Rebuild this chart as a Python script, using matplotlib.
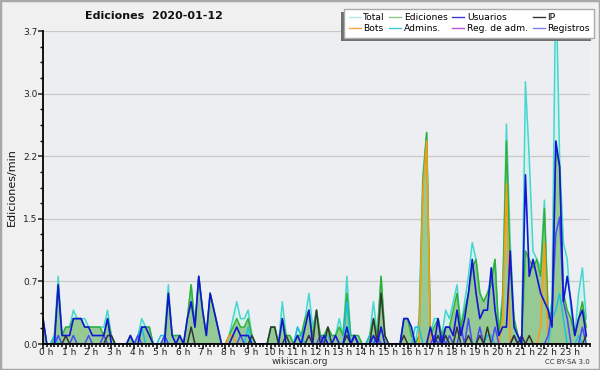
import numpy as np
import matplotlib
matplotlib.use('Agg')
import matplotlib.pyplot as plt
import matplotlib.transforms as mtransforms
from matplotlib.lines import Line2D
from matplotlib.patches import Rectangle
from matplotlib.ticker import MultipleLocator, FixedLocator

# edits per minute, 10-minute bins (one row per hour)
total = [
    0.3, 0, 0, 0.1, 0.8, 0.1,
    0.2, 0.2, 0.4, 0.3, 0.3, 0.3,
    0.2, 0.2, 0.2, 0.2, 0.2, 0.4,
    0.1, 0, 0, 0, 0, 0.1,
    0, 0.1, 0.3, 0.2, 0.2, 0,
    0, 0, 0.1, 0.7, 0.1, 0.1,
    0.1, 0, 0.3, 0.7, 0.2, 0.8,
    0.4, 0.1, 0.6, 0.4, 0.2, 0,
    0, 0.1, 0.3, 0.5, 0.3, 0.3,
    0.4, 0.1, 0, 0, 0, 0,
    0.2, 0.2, 0, 0.5, 0.1, 0.1,
    0, 0.2, 0.1, 0.3, 0.6, 0.2,
    0.4, 0.1, 0.1, 0.2, 0.1, 0.1,
    0.3, 0.1, 0.8, 0.1, 0.1, 0.1,
    0, 0, 0.1, 0.5, 0.1, 0.8,
    0.1, 0, 0, 0, 0, 0.3,
    0.3, 0.1, 0, 0.3, 2.0, 2.5,
    0.1, 0.3, 0.3, 0.1, 0.4, 0.3,
    0.5, 0.7, 0.2, 0.5, 0.8, 1.2,
    1.0, 0.6, 0.5, 0.6, 0.8, 1.0,
    0.1, 0.6, 2.6, 1.2, 0.3, 0.1,
    0, 3.1, 2.2, 1.1, 1.0, 0.9,
    1.7, 0.3, 0.5, 4.4, 2.2, 1.2,
    1.0, 0.4, 0.1, 0.6, 0.9, 0.3,
]
edits = [
    0.3, 0, 0, 0.1, 0.7, 0.1,
    0.2, 0.2, 0.3, 0.3, 0.3, 0.2,
    0.2, 0.2, 0.2, 0.2, 0.1, 0.3,
    0.1, 0, 0, 0, 0, 0.1,
    0, 0.1, 0.2, 0.2, 0.2, 0,
    0, 0, 0.1, 0.6, 0.1, 0.1,
    0.1, 0, 0.3, 0.7, 0.2, 0.8,
    0.4, 0.1, 0.6, 0.4, 0.2, 0,
    0, 0.1, 0.2, 0.3, 0.2, 0.2,
    0.3, 0.1, 0, 0, 0, 0,
    0.2, 0.2, 0, 0.3, 0.1, 0.1,
    0, 0.1, 0.1, 0.3, 0.4, 0.1,
    0.4, 0.1, 0.1, 0.2, 0.1, 0.1,
    0.2, 0.1, 0.6, 0.1, 0.1, 0.1,
    0, 0, 0.1, 0.3, 0.1, 0.8,
    0.1, 0, 0, 0, 0, 0.3,
    0.3, 0.1, 0, 0.1, 1.9, 2.5,
    0.1, 0.2, 0.3, 0.1, 0.2, 0.2,
    0.4, 0.6, 0.2, 0.4, 0.6, 0.9,
    1.0, 0.6, 0.5, 0.6, 0.7, 1.0,
    0.1, 0.5, 2.4, 0.9, 0.3, 0.1,
    0, 1.1, 1.0, 0.9, 1.0, 0.8,
    1.6, 0.3, 0.4, 2.3, 2.1, 0.6,
    0.4, 0.3, 0.1, 0.3, 0.5, 0.2,
]
users = [
    0.3, 0, 0, 0, 0.7, 0.1,
    0.1, 0.1, 0.3, 0.3, 0.3, 0.2,
    0.2, 0.1, 0.1, 0.1, 0.1, 0.3,
    0, 0, 0, 0, 0, 0.1,
    0, 0, 0.2, 0.2, 0.1, 0,
    0, 0, 0, 0.6, 0.1, 0,
    0.1, 0, 0.3, 0.5, 0.2, 0.8,
    0.4, 0.1, 0.6, 0.4, 0.2, 0,
    0, 0, 0.1, 0.2, 0.1, 0.1,
    0.1, 0, 0, 0, 0, 0,
    0, 0, 0, 0.3, 0, 0,
    0, 0.1, 0, 0.2, 0.4, 0,
    0, 0, 0.1, 0, 0, 0.1,
    0, 0, 0.2, 0, 0.1, 0,
    0, 0, 0, 0.1, 0, 0.2,
    0, 0, 0, 0, 0, 0.3,
    0.3, 0.2, 0, 0, 0, 0,
    0.2, 0, 0.3, 0, 0.2, 0.2,
    0.1, 0.4, 0.1, 0.3, 0.6, 1.0,
    0.6, 0.3, 0.4, 0.4, 0.9, 0.4,
    0.1, 0.2, 0.2, 1.1, 0.2, 0.1,
    0, 2.0, 0.8, 1.0, 0.8, 0.6,
    0.5, 0.4, 0.2, 2.4, 2.1, 0.5,
    0.8, 0.5, 0.1, 0.3, 0.4, 0.1,
]
ip = [
    0, 0, 0, 0, 0, 0,
    0.1, 0, 0, 0, 0, 0,
    0, 0, 0, 0, 0, 0.1,
    0.1, 0, 0, 0, 0, 0,
    0, 0, 0, 0, 0, 0,
    0, 0, 0, 0, 0, 0,
    0, 0, 0, 0.2, 0, 0,
    0, 0, 0, 0, 0, 0,
    0, 0, 0, 0, 0, 0,
    0, 0.1, 0, 0, 0, 0,
    0.2, 0.2, 0, 0, 0.1, 0,
    0, 0, 0, 0, 0.1, 0,
    0.4, 0, 0, 0.2, 0, 0,
    0, 0, 0.1, 0, 0.1, 0,
    0, 0, 0, 0.3, 0, 0.6,
    0.1, 0, 0, 0, 0, 0.1,
    0, 0, 0, 0, 0, 0,
    0, 0, 0.1, 0, 0.1, 0,
    0, 0.2, 0, 0, 0.1, 0,
    0, 0.1, 0, 0.2, 0, 0,
    0, 0, 0, 0, 0.1, 0,
    0.1, 0, 0.1, 0, 0, 0,
    0, 0, 0, 0, 0, 0,
    0, 0, 0, 0, 0, 0.1,
]
bots = [0] * 144
bots_peaks = {49: 0.1, 50: 0.1, 100: 1.8, 101: 2.4, 121: 0.3, 122: 1.9,
              131: 0.2, 132: 1.2}
admins = [0] * 144
admins_peaks = {3: 0.1, 25: 0.1, 26: 0.2, 31: 0.1, 32: 0.1, 54: 0.2, 67: 0.2,
                68: 0.1, 74: 0.1, 75: 0.1, 80: 0.5, 86: 0.1, 98: 0.2, 99: 0.2,
                104: 0.1, 106: 0.1, 117: 0.1, 118: 0.1, 134: 0.3, 135: 0.4,
                136: 0.6, 137: 0.3, 141: 0.1}
registros = [0] * 144
registros_peaks = {4: 0.1, 8: 0.1, 12: 0.1, 16: 0.1, 25: 0.1, 32: 0.1,
                   52: 0.1, 73: 0.1, 82: 0.1, 88: 0.1, 103: 0.1, 105: 0.1,
                   107: 0.1, 110: 0.2, 112: 0.3, 115: 0.2, 119: 0.2, 124: 0.1,
                   133: 0.1, 134: 0.4, 135: 1.3, 136: 1.5, 137: 0.5, 138: 0.3,
                   142: 0.2}
regadm = [0] * 144
regadm_peaks = {70: 0.1}

for arr, pk in [(bots, bots_peaks), (admins, admins_peaks),
                (registros, registros_peaks), (regadm, regadm_peaks)]:
    for k, v in pk.items():
        arr[k] = v

hours = np.arange(144) / 6.0
hour_labels = ['%d h' % h for h in range(24)]
y_ticks = np.linspace(0, 3.7, 6)
y_labels = ['0.0', '0.7', '1.5', '2.2', '3.0', '3.7']

fig = plt.figure(figsize=(6, 3.7), dpi=100, facecolor='#f0f0f0')
fig.patches.append(Rectangle((0, 0), 1, 1, transform=fig.transFigure,
                             fill=False, edgecolor='#a8a8a8', lw=2.5))
ax = fig.add_axes([43 / 600, 26 / 370, 547 / 600, 313 / 370])
ax.set_facecolor('#eceef1')

ax.fill_between(hours, total, color='#d4f1ec', lw=0)
ax.fill_between(hours, edits, color='#95ca95', lw=0)
ax.plot(hours, total, color='#45d6d0', lw=1.1)
ax.plot(hours, edits, color='#33b033', lw=1.1)
ax.plot(hours, bots, color='#ff9a10', lw=1.1)
ax.plot(hours, admins, color='#1ec0e0', lw=1.1)
ax.plot(hours, regadm, color='#c040e0', lw=1.1)
ax.plot(hours, registros, color='#4a4af5', lw=1.1)
ax.plot(hours, ip, color='#333333', lw=1.1)
ax.plot(hours, users, color='#1414d4', lw=1.2)

ax.set_xlim(0, 24)
ax.set_ylim(0, 3.7)
for s in ['top', 'right']:
    ax.spines[s].set_visible(False)
for s in ['left', 'bottom']:
    ax.spines[s].set_linewidth(1.3)

ax.xaxis.set_major_locator(FixedLocator(range(24)))
ax.set_xticklabels(hour_labels)
ax.xaxis.set_minor_locator(MultipleLocator(1 / 6))
ax.set_yticks(y_ticks)
ax.set_yticklabels(y_labels)
ax.yaxis.set_minor_locator(MultipleLocator(3.7 / 20))
ax.tick_params(axis='x', which='major', length=3.5, width=1.3, labelsize=6.5,
               pad=0, colors='#222222')
ax.tick_params(axis='x', which='minor', length=2.5, width=1.1)
ax.tick_params(axis='y', which='major', length=3.5, width=1.1, labelsize=6.5,
               pad=0.5, colors='#222222')
ax.tick_params(axis='y', which='minor', length=2.5, width=1)
ax.yaxis.grid(True, color='#c8c8c8', lw=0.9)
ax.set_axisbelow(True)

shift = mtransforms.ScaledTranslation(3 / 100, 1 / 100, fig.dpi_scale_trans)
for lbl in ax.get_xticklabels():
    lbl.set_transform(lbl.get_transform() + shift)

fig.text(154 / 600, 1 - 16 / 370, 'Ediciones  2020-01-12', ha='center',
         va='center', fontsize=8, fontweight='bold', color='#111111')
fig.text(12 / 600, 1 - 187 / 370, 'Ediciones/min', rotation=90, ha='center',
         va='center', fontsize=8, color='#111111')
fig.text(300 / 600, 1 - 361 / 370, 'wikiscan.org', ha='center', va='center',
         fontsize=6.5, color='#333333')
fig.text(590 / 600, 1 - 362 / 370, 'CC BY-SA 3.0', ha='right', va='center',
         fontsize=5, color='#333333')

leg_items = [('Total', '#b4e8e6'), ('Bots', '#ffa040'),
             ('Ediciones', '#88cc88'), ('Admins.', '#40c8d8'),
             ('Usuarios', '#3a3ad8'), ('Reg. de adm.', '#c050d8'),
             ('IP', '#333333'), ('Registros', '#8080f0')]
handles = [Line2D([], [], color=c, lw=1) for _, c in leg_items]
leg = fig.legend(handles, [n for n, _ in leg_items], ncol=4, loc='upper right',
                 bbox_to_anchor=(594 / 600, 1 - 9 / 370), fontsize=6.6,
                 frameon=True, fancybox=False, edgecolor='#aaaaaa',
                 framealpha=1, handlelength=1.3, handletextpad=0.3,
                 columnspacing=0.5, labelspacing=0.25, borderpad=0.45,
                 borderaxespad=0)
leg.set_zorder(5)

# legend shadow drawn by hand (offset down-left like the original)
fig.canvas.draw()
bb = leg.get_window_extent().transformed(fig.transFigure.inverted())
fig.patches.append(Rectangle((bb.x0 - 3 / 600, bb.y0 - 3 / 370), bb.width,
                             bb.height, transform=fig.transFigure,
                             facecolor='#707070', edgecolor='none', zorder=4))

fig.savefig('out.png', dpi=100, facecolor=fig.get_facecolor())
